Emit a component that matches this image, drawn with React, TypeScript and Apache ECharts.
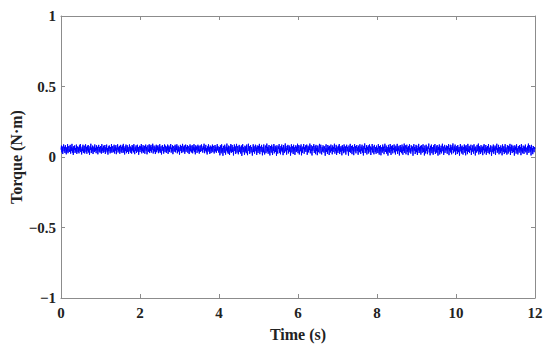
import React, { useEffect, useRef } from "react";
import * as echarts from "echarts";

const timeStart = 0;
const timeEnd = 12;
const xTicks = [0, 2, 4, 6, 8, 10, 12];
const yTicks = [-1, -0.5, 0, 0.5, 1];

const torqueSeg1 = [
  .052,.081,.033,.074,.021,.063,.089,.041,.072,.028,.084,.047,.019,.069,.038,.091,.027,.061,.078,.036,
  .058,.086,.024,.071,.044,.093,.031,.066,.015,.077,.049,.082,.029,.064,.039,.088,.022,.057,.075,.034,
  .068,.026,.083,.045,.092,.035,.059,.018,.073,.042,.087,.030,.062,.080,.025,.054,.090,.037,.070,.023,
  .079,.046,.085,.032,.060,.016,.076,.050,.094,.028,.067,.040,.081,.021,.056,.074,.035,.089,.043,.065,
  .027,.083,.048,.072,.019,.061,.086,.038,.070,.031,.078,.053,.024,.091,.044,.066,.029,.080,.036,.058,
  .085,.022,.069,.047,.088,.033,.063,.017,.075,.041,.082,.055,.026,.071,.039,.092,.030,.064,.077,.034,
  .057,.087,.025,.073,.045,.084,.020,.066,.051,.090,.032,.068,.043,.079,.023,.060,.086,.037,.072,.028,
  .081,.049,.093,.031,.065,.018,.076,.042,.088,.027,.062,.083,.036,.070,.022,.058,.089,.040,.074,.030,
  .067,.024,.085,.046,.078,.033,.091,.054,.020,.069,.044,.082,.029,.063,.087,.038,.071,.016,.059,.080,
  .035,.075,.050,.092,.026,.068,.041,.084,.031,.064,.079,.023,.057,.088,.045,.072,.019,.066,.083,.037,
  .061,.090,.028,.077,.043,.086,.032,.070,.052,.094,.025,.060,.081,.039,.073,.021,.065,.087,.034,.078,
  .048,.083,.027,.069,.040,.091,.030,.062,.076,.018,.058,.085,.044,.071,.024,.067,.089,.036,.080,.053,
  .029,.074,.046,.088,.022,.064,.081,.035,.072,.056,.092,.031,.066,.042,.084,.020,.061,.077,.038,.069,
  .087,.033,.075,.049,.090,.026,.063,.080,.039,.070,.017,.059,.086,.043,.078,.028,.068,.093,.034,.073,
  .045,.082,.023,.065,.088,.037,.071,.054,.085,.030,.062,.076,.021,.067,.089,.041,.079,.032,.060,.084,
  .026,.072,.047,.091,.035,.068,.019,.083,.050,.074,.029,.064,.087,.040,.077,.024,.058,.082,.036,.070,
  .089,.042,.066,.031,.079,.053,.094,.027,.071,.045,.086,.033,.063,.018,.075,.048,.090,.038,.069,.022,
  .081,.055,.028,.073,.043,.088,.034,.067,.079,.025,.060,.085,.040,.072,.030,.065,.091,.046,.076,.032,
];

const torqueSeg2 = [
  .044,.071,.012,.083,.057,.026,.090,.038,.064,.009,.079,.051,.030,.087,.061,.017,.073,.046,.095,.033,
  .068,.023,.081,.055,.014,.076,.040,.092,.029,.062,.085,.036,.070,.011,.058,.089,.042,.075,.021,.066,
  .093,.031,.060,.078,.019,.053,.086,.037,.072,.025,.065,.082,.008,.048,.091,.034,.069,.056,.016,.080,
  .039,.074,.027,.088,.050,.013,.067,.094,.043,.077,.022,.059,.084,.032,.071,.047,.010,.063,.090,.035,
  .076,.024,.057,.087,.041,.068,.015,.082,.052,.029,.079,.045,.093,.020,.061,.074,.037,.086,.054,.012,
  .070,.033,.089,.048,.018,.066,.081,.027,.059,.095,.039,.072,.023,.064,.085,.044,.011,.078,.050,.031,
  .087,.060,.014,.073,.042,.092,.026,.055,.080,.036,.069,.009,.083,.047,.024,.075,.058,.091,.030,.062,
  .019,.077,.045,.088,.034,.067,.013,.084,.053,.028,.071,.096,.040,.063,.017,.079,.049,.086,.025,.057,
  .081,.038,.070,.010,.065,.090,.032,.054,.076,.021,.087,.046,.068,.015,.059,.083,.035,.073,.043,.094,
  .027,.061,.085,.018,.052,.078,.041,.089,.012,.066,.030,.074,.055,.092,.023,.069,.047,.082,.036,.063,
  .088,.016,.057,.080,.033,.071,.049,.095,.026,.060,.084,.038,.011,.075,.044,.067,.091,.029,.053,.078,
  .020,.086,.042,.064,.013,.081,.056,.034,.072,.093,.025,.058,.087,.045,.018,.070,.039,.083,.062,.031,
  .076,.051,.009,.068,.090,.037,.061,.022,.085,.048,.073,.014,.079,.054,.032,.088,.043,.066,.019,.082,
  .035,.071,.058,.094,.024,.063,.041,.086,.015,.074,.052,.029,.080,.046,.092,.021,.067,.038,.077,.056,
  .012,.084,.044,.069,.027,.089,.060,.033,.075,.017,.062,.087,.040,.072,.050,.010,.081,.036,.065,.093,
  .030,.057,.078,.020,.083,.047,.070,.013,.064,.091,.039,.076,.026,.059,.085,.043,.068,.016,.080,.053,
  .034,.090,.061,.022,.073,.045,.087,.031,.066,.011,.079,.055,.096,.028,.063,.041,.084,.018,.071,.049,
  .082,.025,.058,.089,.037,.074,.014,.067,.052,.092,.032,.077,.045,.019,.086,.060,.035,.070,.023,.081,
];

const torqueSeg3 = [
  .047,.065,.028,.091,.054,.017,.078,.040,.083,.012,.069,.056,.031,.088,.044,.073,.020,.062,.094,.036,
  .059,.081,.024,.071,.049,.010,.086,.038,.067,.030,.092,.053,.015,.076,.042,.084,.026,.064,.051,.089,
  .033,.072,.018,.080,.057,.041,.093,.022,.066,.046,.079,.011,.060,.085,.035,.070,.027,.088,.050,.016,
  .075,.043,.095,.029,.063,.082,.019,.055,.087,.037,.068,.013,.077,.048,.090,.032,.061,.024,.083,.052,
  .039,.074,.009,.066,.091,.045,.071,.021,.058,.086,.034,.080,.014,.062,.047,.093,.028,.069,.040,.078,
  .017,.084,.055,.030,.073,.090,.036,.064,.011,.081,.049,.025,.087,.043,.067,.020,.075,.059,.095,.033,
  .061,.012,.079,.046,.088,.027,.070,.054,.016,.083,.038,.065,.092,.022,.057,.076,.031,.085,.044,.010,
  .072,.050,.089,.018,.063,.035,.080,.026,.068,.094,.041,.074,.015,.058,.086,.029,.066,.048,.082,.037,
  .023,.077,.055,.091,.013,.064,.042,.087,.032,.070,.019,.083,.051,.096,.027,.060,.075,.039,.088,.014,
  .066,.045,.078,.021,.085,.056,.034,.071,.010,.062,.092,.040,.073,.025,.081,.047,.017,.069,.053,.089,
  .030,.076,.012,.084,.043,.065,.020,.093,.036,.058,.079,.028,.070,.049,.087,.015,.061,.038,.082,.054,
  .024,.090,.046,.067,.011,.074,.052,.031,.086,.041,.063,.095,.018,.077,.035,.068,.022,.084,.057,.033,
  .072,.013,.080,.048,.091,.026,.059,.039,.085,.016,.069,.044,.078,.029,.092,.055,.020,.066,.037,.083,
  .050,.009,.075,.060,.034,.088,.023,.067,.045,.081,.014,.073,.052,.094,.030,.062,.040,.086,.019,.070,
  .057,.027,.082,.042,.065,.012,.089,.048,.036,.076,.021,.059,.091,.032,.068,.046,.017,.084,.053,.025,
  .079,.038,.063,.093,.015,.071,.044,.087,.028,.056,.080,.035,.066,.010,.083,.050,.073,.024,.090,.041,
  .061,.018,.077,.054,.031,.085,.047,.069,.013,.092,.039,.064,.026,.081,.058,.022,.074,.043,.088,.033,
  .067,.051,.016,.079,.045,.095,.029,.060,.084,.037,.072,.011,.086,.048,.063,.020,.078,.055,.034,.070,
  .058,
];

const FONT = "'Liberation Serif', 'DejaVu Serif', serif";
const AXIS_COLOR = "#8c8c8c";
const TEXT_COLOR = "#222";

export default function App() {
  const ref = useRef<HTMLDivElement>(null);
  useEffect(() => {
    if (!ref.current) return;
    const chart = echarts.init(ref.current, null, { renderer: "svg" });
    const torque = [...torqueSeg1, ...torqueSeg2, ...torqueSeg3];
    const dt = (timeEnd - timeStart) / (torque.length - 1);
    const data = torque.map((v, i) => [timeStart + i * dt, v]);
    const fmt = (v: number) => String(v).replace("-", "\u2212");
    const commonLine = { show: true, onZero: false, lineStyle: { color: AXIS_COLOR, width: 1 } };
    const commonTick = { show: true, inside: true, length: 4, lineStyle: { color: AXIS_COLOR } };
    const labelStyle = { fontFamily: FONT, fontWeight: "bold", fontSize: 15, color: TEXT_COLOR };
    const nameStyle = { fontFamily: FONT, fontWeight: "bold", fontSize: 16, color: TEXT_COLOR };
    chart.setOption({
      animation: false,
      grid: {
        left: 61,
        right: 15,
        top: 16,
        bottom: 53,
        containLabel: false,
        outerBoundsMode: "none",
      },
      xAxis: [
        {
          type: "value",
          min: xTicks[0],
          max: xTicks[xTicks.length - 1],
          interval: 2,
          position: "bottom",
          name: "Time (s)",
          nameLocation: "middle",
          nameGap: 28,
          nameMoveOverlap: false,
          nameTextStyle: nameStyle,
          axisLine: commonLine,
          axisTick: commonTick,
          axisLabel: { ...labelStyle, margin: 7, formatter: fmt },
          splitLine: { show: false },
        },
        {
          type: "value",
          min: xTicks[0],
          max: xTicks[xTicks.length - 1],
          interval: 2,
          position: "top",
          axisLine: commonLine,
          axisTick: commonTick,
          axisLabel: { show: false },
          splitLine: { show: false },
        },
      ],
      yAxis: [
        {
          type: "value",
          min: yTicks[0],
          max: yTicks[yTicks.length - 1],
          interval: 0.5,
          position: "left",
          name: "Torque (N\u00b7m)",
          nameLocation: "middle",
          nameGap: 37,
          nameMoveOverlap: false,
          nameTextStyle: nameStyle,
          axisLine: commonLine,
          axisTick: commonTick,
          axisLabel: { ...labelStyle, margin: 5, formatter: fmt },
          splitLine: { show: false },
        },
        {
          type: "value",
          min: yTicks[0],
          max: yTicks[yTicks.length - 1],
          interval: 0.5,
          position: "right",
          axisLine: commonLine,
          axisTick: commonTick,
          axisLabel: { show: false },
          splitLine: { show: false },
        },
      ],
      series: [
        {
          type: "line",
          data,
          showSymbol: false,
          symbol: "none",
          lineStyle: { color: "#0000ff", width: 1 },
          silent: true,
        },
      ],
    });
    return () => chart.dispose();
  }, []);
  return (
    <div
      ref={ref}
      style={{ position: "fixed", left: 0, top: 0, width: 550, height: 351, background: "#fff" }}
    />
  );
}
